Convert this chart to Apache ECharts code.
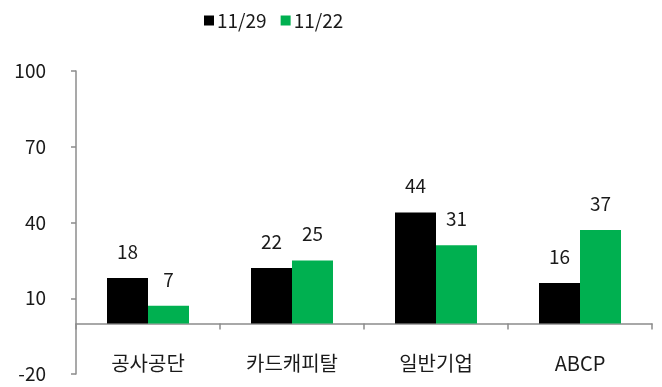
<!DOCTYPE html>
<html>
<head>
<meta charset="utf-8">
<script src="https://cdn.jsdelivr.net/npm/echarts@6/dist/echarts.min.js"></script>
<style>
  html, body { margin: 0; padding: 0; background: #fff; }
  #chart { width: 662px; height: 387px; }
</style>
</head>
<body>
<div id="chart"></div>
<script>
// Categories and weekly values
const categories = ['공사공단', '카드캐피탈', '일반기업', 'ABCP'];
const seriesNames = ['11/29', '11/22'];
const valuesNov29 = [18, 22, 44, 16];
const valuesNov22 = [7, 25, 31, 37];
const yTicks = { min: -20, max: 100, interval: 30 };

const font = '"Noto Sans CJK KR", "Noto Sans", sans-serif';
const axisGray = '#8c8c8c';
const textColor = '#1a1a1a';

const chart = echarts.init(document.getElementById('chart'));

function barSeries(name, data, color) {
  return {
    name: name,
    type: 'bar',
    data: data,
    barWidth: 41,
    barGap: '0%',
    itemStyle: { color: color },
    label: {
      show: true,
      position: 'top',
      distance: 17,
      color: textColor,
      fontSize: 19,
      fontFamily: font
    }
  };
}

chart.setOption({
  animation: false,
  legend: {
    top: 6,
    left: 199,
    itemWidth: 10,
    itemHeight: 10,
    itemGap: 14,
    icon: 'rect',
    textStyle: { fontSize: 19, color: textColor, fontFamily: font, padding: [0, 0, 0, -2] },
    data: seriesNames
  },
  grid: { left: 76, right: 10, top: 71, bottom: 13, outerBoundsMode: 'none', containLabel: false },
  xAxis: {
    type: 'category',
    data: categories,
    axisLine: { onZero: true, lineStyle: { color: axisGray, width: 1.5 } },
    axisTick: { show: true, length: 6, alignWithLabel: false, lineStyle: { color: axisGray, width: 1.5 } },
    // labels sit between the zero line and the bottom of the plot
    axisLabel: { color: textColor, fontSize: 20, fontFamily: font, margin: -21 }
  },
  yAxis: {
    type: 'value',
    min: yTicks.min,
    max: yTicks.max,
    interval: yTicks.interval,
    splitLine: { show: false },
    axisLine: { show: true, lineStyle: { color: axisGray, width: 1.5 } },
    axisTick: { show: true, length: 5, lineStyle: { color: axisGray, width: 1.5 } },
    axisLabel: { color: textColor, fontSize: 19, fontFamily: font, margin: 30 }
  },
  series: [
    barSeries(seriesNames[0], valuesNov29, '#000000'),
    barSeries(seriesNames[1], valuesNov22, '#00b050')
  ]
});
</script>
</body>
</html>
